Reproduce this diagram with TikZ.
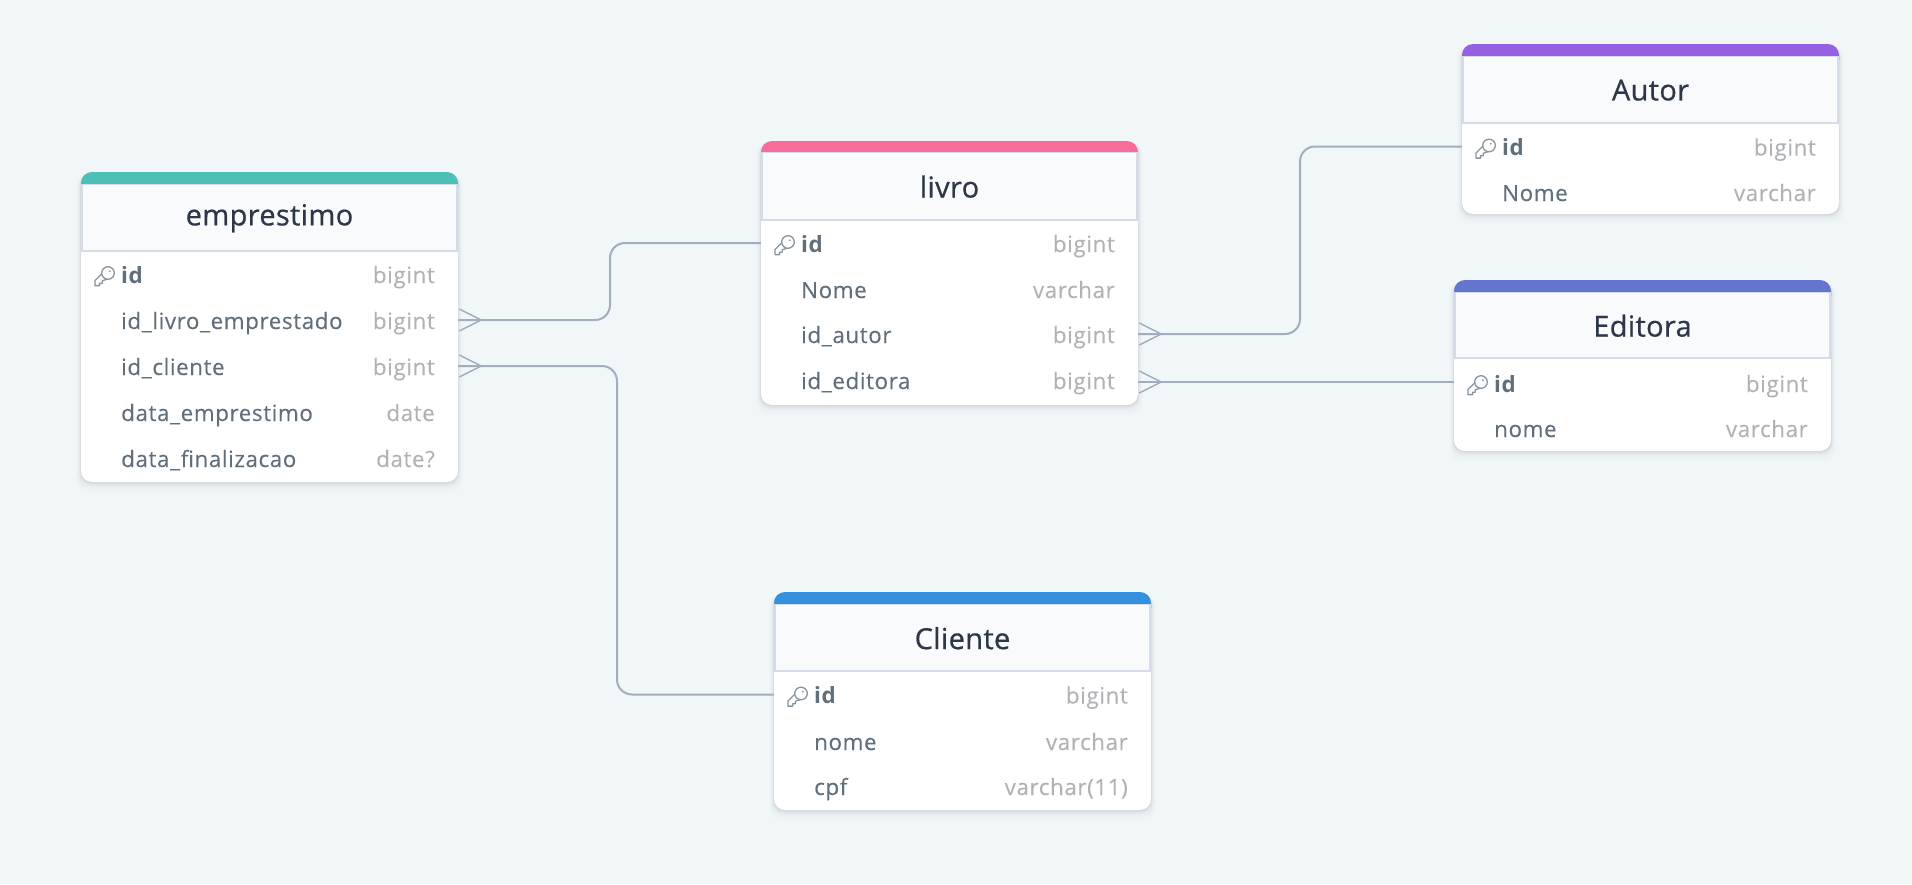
\documentclass[tikz,border=0pt]{standalone}
\usepackage{fontspec}
\setmainfont[LetterSpace=2.6,FakeBold=0.12]{Open Sans}
\usetikzlibrary{calc}
\definecolor{bgc}{HTML}{F1F6F9}
\definecolor{ctitle}{HTML}{2D3748}
\definecolor{crow}{HTML}{606F7B}
\definecolor{ctype}{HTML}{B0B3B6}
\definecolor{cline}{HTML}{A0AEC0}
\definecolor{chead}{HTML}{F8FAFC}
\definecolor{cborder}{HTML}{D3DCE8}
\definecolor{ckey}{HTML}{8795A1}
\definecolor{cteal}{HTML}{4DC0B5}
\definecolor{cpink}{HTML}{F66D9B}
\definecolor{cpurple}{HTML}{9561E2}
\definecolor{cindigo}{HTML}{6574CD}
\definecolor{cblue}{HTML}{3490DC}
\newfontfamily\titlefont[FakeBold=0.6,LetterSpace=1.2]{Open Sans}
\newfontfamily\boldrow[LetterSpace=2.6]{Open Sans Bold}
\tikzset{
  titletext/.style={inner sep=0pt,text=ctitle,font=\titlefont\fontsize{29}{31}\selectfont},
  rowbox/.style={inner sep=0pt,minimum width=377pt,minimum height=40pt},
  rowtext/.style={inner sep=0pt,anchor=base west,text=crow,font=\fontsize{22.4}{25}\selectfont},
  keytext/.style={rowtext,font=\boldrow\fontsize{22.4}{25}\selectfont},
  typetext/.style={inner sep=0pt,anchor=base east,text=ctype,font=\fontsize{22.4}{25}\selectfont},
  conn/.style={draw=cline,line width=2pt,rounded corners=15pt},
  crow foot/.style={draw=cline,line width=1.4pt},
}
% #1 id, #2 left, #3 top, #4 band bottom, #5 header bottom, #6 bottom, #7 colour, #8 title
\newcommand{\tbl}[8]{%
  \foreach \sh/\op in {1/.03,2/.025,3/.02,4/.015,6/.012,8/.008,10/.006}{
    \fill[black,opacity=\op,rounded corners=11pt] (#2-\sh/2,#3+2) rectangle (#2+377+\sh/2,#6+\sh);
  }
  \fill[white,rounded corners=11pt] (#2,#3+5) rectangle (#2+377,#6);
  \fill[#7,rounded corners=11pt] (#2,#3) rectangle (#2+377,#4+15);
  \fill[chead,draw=cborder,line width=1.6pt] (#2+.8,#4+.5) rectangle (#2+377-.8,#5);
  \node[titletext] (#1) at (#2+188.5,{(#4+#5)/2+0.7}) {#8};
}
% #1 node id, #2 left, #3 baseline, #4 name, #5 type
\newcommand{\rw}[5]{%
  \node[rowbox] (#1) at (#2+188.5,#3-9) {};
  \node[rowtext] (#1-n) at (#2+40,#3) {#4};
  \node[typetext] (#1-t) at (#2+354,#3) {#5};
}
\newcommand{\kw}[5]{%
  \node[rowbox] (#1) at (#2+188.5,#3-9) {};
  \node[keytext] (#1-n) at (#2+40,#3) {#4};
  \node[typetext] (#1-t) at (#2+354,#3) {#5};
  \begin{scope}[shift={(#2+27,#3-10)}]
    \draw[ckey,line width=1.3pt,line join=round] (-6,0.5) -- (-13,7.5) -- (-13,12.6) -- (-8.4,12.6) -- (-8.4,10.2) -- (-5.8,10.2) -- (-5.8,7.8) -- (-0.5,6);
    \draw[ckey,fill=white,line width=1.3pt] (0,0) circle (6.3pt);
    \fill[ckey] (1.8,-1.8) circle (1pt);
  \end{scope}
}
\newcommand{\foot}[1]{%
  \draw[crow foot] ($(#1.east)+(1,-11)$) -- ($(#1.east)+(23,0)$) -- ($(#1.east)+(1,11)$);
}
\begin{document}
\begin{tikzpicture}[x=1pt,y=-1pt]
\useasboundingbox (0,0) rectangle (1912,884);
\fill[bgc] (0,0) rectangle (1912,884);

\tbl{emp}{81}{172}{184}{251}{482}{cteal}{emprestimo}
\kw{emp1}{81}{283}{id}{bigint}
\rw{emp2}{81}{329}{id\_livro\_emprestado}{bigint}
\rw{emp3}{81}{375}{id\_cliente}{bigint}
\rw{emp4}{81}{421}{data\_emprestimo}{date}
\rw{emp5}{81}{467}{data\_finalizacao}{date?}

\tbl{liv}{761}{141}{152}{220}{405}{cpink}{livro}
\kw{liv1}{761}{252}{id}{bigint}
\rw{liv2}{761}{298}{Nome}{varchar}
\rw{liv3}{761}{343}{id\_autor}{bigint}
\rw{liv4}{761}{389}{id\_editora}{bigint}

\tbl{aut}{1462}{44}{56}{123}{214}{cpurple}{Autor}
\kw{aut1}{1462}{155.5}{id}{bigint}
\rw{aut2}{1462}{201}{Nome}{varchar}

\tbl{edi}{1454}{280}{292}{358}{451}{cindigo}{Editora}
\kw{edi1}{1454}{392}{id}{bigint}
\rw{edi2}{1454}{437}{nome}{varchar}

\tbl{cli}{774}{592}{604}{671}{810}{cblue}{Cliente}
\kw{cli1}{774}{703.5}{id}{bigint}
\rw{cli2}{774}{750}{nome}{varchar}
\rw{cli3}{774}{795}{cpf}{varchar(11)}

\coordinate (v1) at (610,0);
\coordinate (v2) at (617,0);
\coordinate (v3) at (1300,0);
\coordinate (liv4line) at (0,382);
\draw[conn] (emp2.east) -- (emp2.east -| v1) -- (v1 |- liv1.west) -- (liv1.west);
\draw[conn] (emp3.east) -- (emp3.east -| v2) -- (v2 |- cli1.west) -- (cli1.west);
\draw[conn] (liv3.east) -- (liv3.east -| v3) -- (v3 |- aut1.west) -- (aut1.west);
\draw[conn] (liv4.east |- liv4line) -- (edi1.west |- liv4line);
\draw[crow foot] ($(liv4.east |- liv4line)+(1,-11)$) -- ($(liv4.east |- liv4line)+(23,0)$) -- ($(liv4.east |- liv4line)+(1,11)$);
\foot{emp2}\foot{emp3}\foot{liv3}
\end{tikzpicture}
\end{document}
